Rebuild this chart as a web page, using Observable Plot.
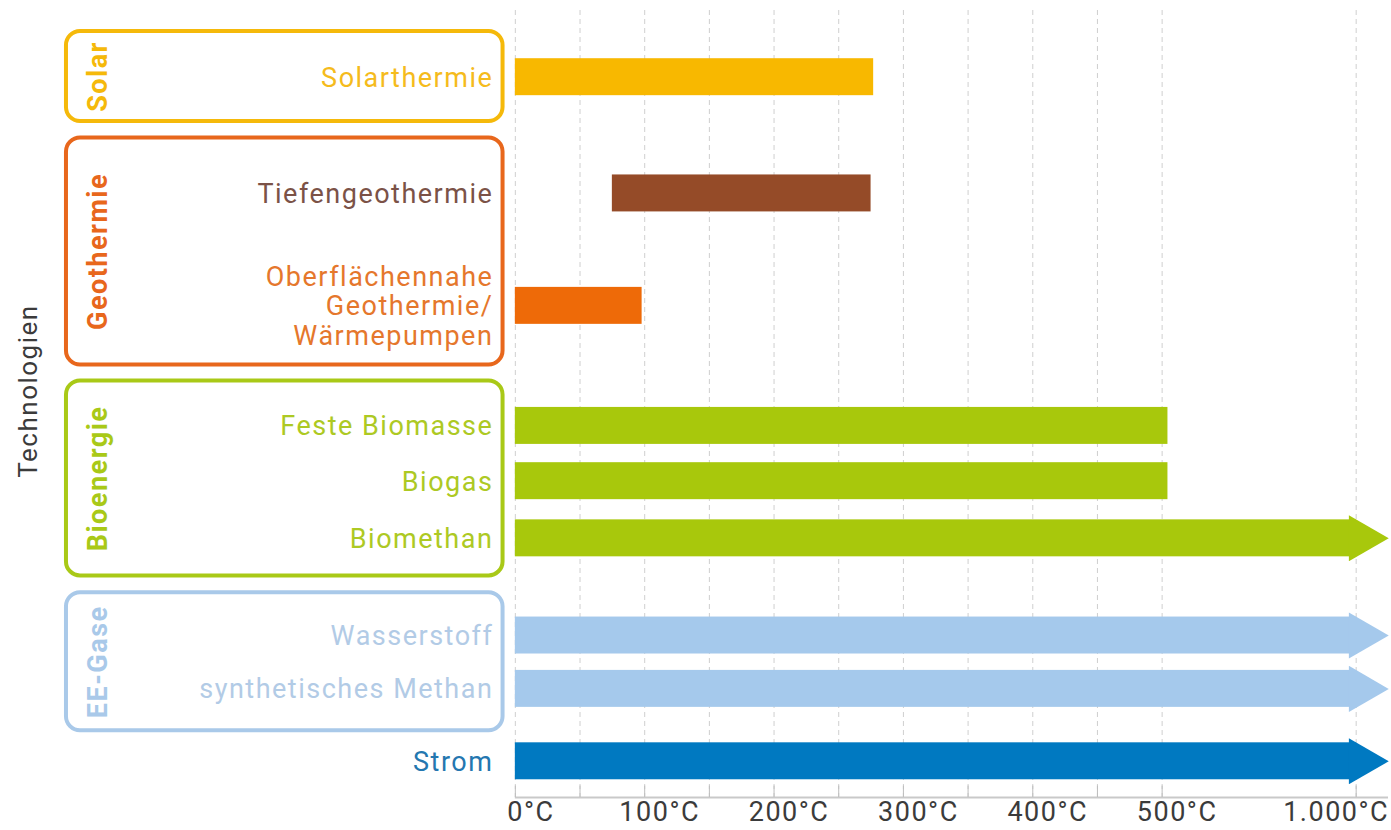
<!DOCTYPE html>
<html>
<head>
<meta charset="utf-8">
<script src="https://cdn.jsdelivr.net/npm/d3@7"></script>
<script src="https://cdn.jsdelivr.net/npm/@observablehq/plot@0.6"></script>
<style>
  body { margin: 0; background: #fff; }
  #chart svg { display: block; }
  #chart svg text { letter-spacing: 1.5px; }
</style>
</head>
<body>
<div id="chart"></div>
<script>
// ---------------- data ----------------
const technologies = [
  "Solarthermie",
  "Tiefengeothermie",
  "Oberflächennahe\nGeothermie/\nWärmepumpen",
  "Feste Biomasse",
  "Biogas",
  "Biomethan",
  "Wasserstoff",
  "synthetisches Methan",
  "Strom"
];
const techGroups = ["Solar", "Geothermie", "Geothermie", "Bioenergie", "Bioenergie", "Bioenergie", "EE-Gase", "EE-Gase", "Strom"];
const tempFrom = [0, 75, 0, 0, 0, 0, 0, 0, 0];          // °C
const tempTo   = [277, 275, 98, 515, 515, 1000, 1000, 1000, 1000]; // °C
const openEnded = [false, false, false, false, false, true, true, true, true];
const groupNames = ["Solar", "Geothermie", "Bioenergie", "EE-Gase"];
const tickValues = [0, 100, 200, 300, 400, 500, 1000];
const tickLabels = ["0°C", "100°C", "200°C", "300°C", "400°C", "500°C", "1.000°C"];
const gridValues = [0, 50, 100, 150, 200, 250, 300, 350, 400, 450, 500, 1000];
const axisTitle = "Technologien";

// ---------------- styles ----------------
const barColors   = ["#f8b800", "#954b28", "#ee6a08", "#a8c80c", "#a8c80c", "#a8c80c", "#a5c9ec", "#a5c9ec", "#0079c1"];
const labelColors = ["#f5bb1c", "#7b5247", "#e5772c", "#adc923", "#adc923", "#adc923", "#b2cbe6", "#b2cbe6", "#2477b0"];
const groupColors = {"Solar": "#f5b90a", "Geothermie": "#e8671c", "Bioenergie": "#a9c917", "EE-Gase": "#a9c9e9"};

// ---------------- layout ----------------
const rowSlot = [0, 6.1, 12, 18.3, 21.2, 24.2, 29.3, 32.1, 35.9];
const boxPad = {"Solar": [2.4, 2.32], "Geothermie": [2.91, 3.1], "Bioenergie": [2.36, 1.97], "EE-Gase": [2.24, 2.2]};
const yDomain = [-3.5, 37.8];
const xDomain = [-398, 675];
const panel = {left: -347, right: -9.5, groupLabel: -322};
const barHalf = 0.97;
// broken temperature axis: linear up to 500 °C, compressed from 500 to 1000 °C
const pos = v => v <= 500 ? v : 500 + (v - 500) * 0.3;

const rows = technologies.map((t, i) => ({
  tech: t, group: techGroups[i], from: tempFrom[i], to: tempTo[i], open: openEnded[i],
  slot: rowSlot[i], bar: barColors[i], label: labelColors[i]
}));
const boxes = groupNames.map(g => {
  const r = rows.filter(d => d.group === g);
  const y1 = d3.min(r, d => d.slot) - boxPad[g][0];
  const y2 = d3.max(r, d => d.slot) + boxPad[g][1];
  return {group: g, y1, y2, mid: (y1 + y2) / 2, color: groupColors[g]};
});
const ticks = tickValues.map((v, i) => ({v, label: tickLabels[i]}));

const font = "Roboto, 'Open Sans', sans-serif";
const tickText = {text: "label", frameAnchor: "bottom", lineAnchor: "middle", dy: 15, fontSize: 27, fill: "#3b3b3b"};

const chart = Plot.plot({
  width: 1391,
  height: 830,
  marginLeft: 0,
  marginRight: 3,
  marginTop: 10,
  marginBottom: 33,
  style: {fontFamily: font, background: "#fff"},
  x: {domain: xDomain, axis: null},
  y: {domain: yDomain, reverse: true, axis: null},
  color: {type: "identity"},
  marks: [
    // dashed gridlines
    Plot.ruleX(gridValues, {x: d => pos(d), stroke: "#cfcfcf", strokeWidth: 1, strokeDasharray: "5,4"}),
    // axis line + tick marks
    Plot.ruleY([yDomain[1]], {x1: () => 0, x2: () => xDomain[1], stroke: "#c9c9c9", strokeWidth: 2}),
    Plot.ruleX(gridValues, {x: d => pos(d), y1: () => yDomain[1] - 0.6, y2: () => yDomain[1], stroke: "#bdbdbd", strokeWidth: 1}),
    // tick labels
    Plot.text(ticks.slice(0, 1), {...tickText, x: d => pos(d.v), dx: -8, textAnchor: "start"}),
    Plot.text(ticks.slice(1, -1), {...tickText, x: d => pos(d.v), dx: 15, textAnchor: "middle"}),
    Plot.text(ticks.slice(-1), {...tickText, x: d => pos(d.v), dx: 33, textAnchor: "end"}),
    // group boxes
    Plot.rect(boxes, {x1: () => panel.left, x2: () => panel.right, y1: "y1", y2: "y2", fill: "none", stroke: "color", strokeWidth: 4, rx: 14}),
    Plot.text(boxes, {x: () => panel.groupLabel, y: "mid", text: "group", rotate: -90, fill: "color", fontSize: 27, fontWeight: "bold"}),
    // bars
    Plot.rect(rows, {x1: d => pos(d.from), x2: d => pos(d.to), y1: d => d.slot - barHalf, y2: d => d.slot + barHalf, fill: "bar"}),
    // arrow heads for open-ended ranges
    Plot.dot(rows.filter(d => d.open), {x: d => pos(d.to), y: "slot", symbol: "triangle", r: 17.1, rotate: 90, fill: "bar", dx: 6}),
    // technology labels
    Plot.text(rows, {x: () => 0, y: "slot", text: "tech", textAnchor: "end", dx: -22, fill: "label", fontSize: 27, lineHeight: 1.1}),
    // axis title
    Plot.text([axisTitle], {frameAnchor: "left", textAnchor: "middle", lineAnchor: "middle", text: d => d, rotate: -90, dx: 28, dy: -13, fontSize: 26, fill: "#3b3b3b"})
  ]
});
document.getElementById("chart").appendChild(chart);
</script>
</body>
</html>
